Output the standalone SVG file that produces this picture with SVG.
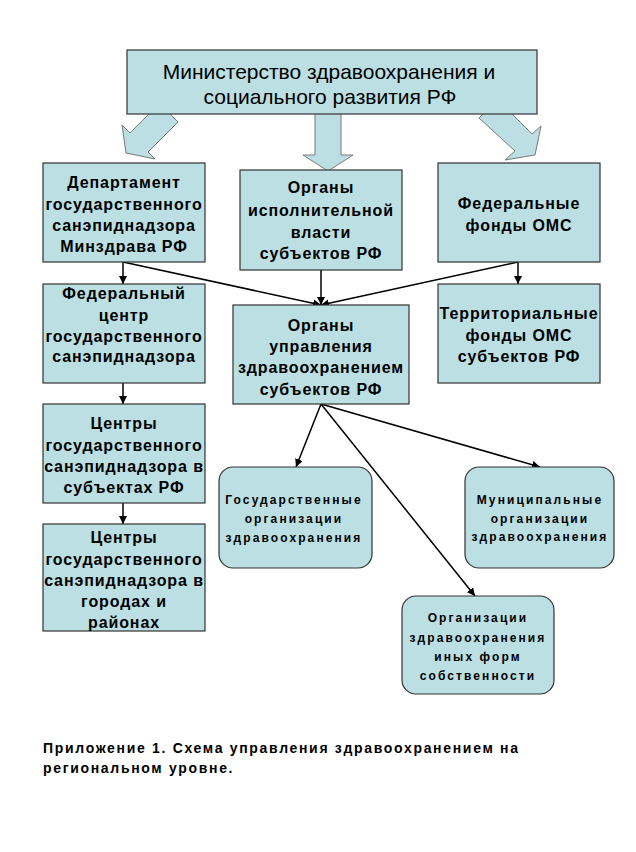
<svg xmlns="http://www.w3.org/2000/svg" width="636" height="852" viewBox="0 0 636 852">
<defs>
<marker id="ah" viewBox="0 0 10 10" refX="10" refY="5" markerWidth="8" markerHeight="8" markerUnits="userSpaceOnUse" orient="auto"><path d="M0,0 L10,5 L0,10 z" fill="#000"/></marker>
<style>
.box{fill:#BBDFE2;stroke:#333;stroke-width:1.2}
.rbox{fill:#BBDFE2;stroke:#333;stroke-width:1.2}
.barrow{fill:#BBDFE2;stroke:#7a7a7a;stroke-width:1}
.t{font-family:"Liberation Sans",Arial,sans-serif;font-weight:bold;font-size:16px;letter-spacing:0.9px;fill:#000;text-anchor:middle}
.s{font-family:"Liberation Sans",Arial,sans-serif;font-weight:bold;font-size:12px;letter-spacing:2.1px;fill:#000;text-anchor:middle}
.title{font-family:"Liberation Sans",Arial,sans-serif;font-size:21px;fill:#000;text-anchor:middle}
.cap{font-family:"Liberation Sans",Arial,sans-serif;font-weight:bold;font-size:14px;letter-spacing:1.68px;fill:#000}
.c{stroke:#000;stroke-width:1.5;fill:none;marker-end:url(#ah)}
</style>
</defs>
<rect width="636" height="852" fill="#fff"/>
<g id="block-arrows">
<polygon class="barrow" points="151,112 130,133 122,125 126,153 155,159 148,152 178,122 168,112"/>
<polygon class="barrow" points="315,112 315,155 303,155 328,171 353,155 341,155 341,112"/>
<polygon class="barrow" points="485,112 479,118 515,151 505,160 535,155 541,126 532,134 510,112"/>
</g>
<g id="ministry">
<rect class="box" x="127" y="50" width="410" height="64"/>
<text class="title" x="329" y="79">Министерство здравоохранения и</text>
<text class="title" x="330" y="104">социального развития РФ</text>
</g>
<g id="connectors">
<line class="c" x1="123" y1="262" x2="123" y2="284"/>
<line class="c" x1="123" y1="262" x2="321" y2="305"/>
<line class="c" x1="321" y1="270" x2="321" y2="305"/>
<line class="c" x1="518" y1="262" x2="321" y2="305"/>
<line class="c" x1="518" y1="262" x2="518" y2="284"/>
<line class="c" x1="123" y1="383" x2="123" y2="404"/>
<line class="c" x1="123" y1="503" x2="123" y2="524"/>
<line class="c" x1="321" y1="404" x2="296" y2="467"/>
<line class="c" x1="321" y1="404" x2="540" y2="467"/>
<line class="c" x1="321" y1="404" x2="475" y2="596"/>
</g>
<g id="dept">
<rect class="box" x="43" y="163" width="162" height="99"/>
<text class="t" x="124" y="188">Департамент</text>
<text class="t" x="124" y="210">государственного</text>
<text class="t" x="124" y="231">санэпиднадзора</text>
<text class="t" x="124" y="252">Минздрава РФ</text>
</g>
<g id="exec">
<rect class="box" x="240" y="170" width="162" height="100"/>
<text class="t" x="321" y="193">Органы</text>
<text class="t" x="321" y="216">исполнительной</text>
<text class="t" x="321" y="238">власти</text>
<text class="t" x="321" y="259">субъектов РФ</text>
</g>
<g id="fed-funds">
<rect class="box" x="438" y="163" width="162" height="99"/>
<text class="t" x="519" y="209">Федеральные</text>
<text class="t" x="519" y="231">фонды ОМС</text>
</g>
<g id="fed-center">
<rect class="box" x="43" y="284" width="162" height="99"/>
<text class="t" x="124" y="299">Федеральный</text>
<text class="t" x="124" y="321">центр</text>
<text class="t" x="124" y="342">государственного</text>
<text class="t" x="124" y="362">санэпиднадзора</text>
</g>
<g id="mgmt">
<rect class="box" x="233" y="305" width="176" height="99"/>
<text class="t" x="321" y="331">Органы</text>
<text class="t" x="321" y="352">управления</text>
<text class="t" x="321" y="373">здравоохранением</text>
<text class="t" x="321" y="395">субъектов РФ</text>
</g>
<g id="terr-funds">
<rect class="box" x="438" y="284" width="162" height="99"/>
<text class="t" x="519" y="319">Территориальные</text>
<text class="t" x="519" y="341">фонды ОМС</text>
<text class="t" x="519" y="362">субъектов РФ</text>
</g>
<g id="centers-subj">
<rect class="box" x="43" y="404" width="162" height="99"/>
<text class="t" x="124" y="429">Центры</text>
<text class="t" x="124" y="451">государственного</text>
<text class="t" x="124" y="472">санэпиднадзора в</text>
<text class="t" x="124" y="493">субъектах РФ</text>
</g>
<g id="centers-city">
<rect class="box" x="43" y="524" width="162" height="107"/>
<text class="t" x="124" y="543">Центры</text>
<text class="t" x="124" y="565">государственного</text>
<text class="t" x="124" y="586">санэпиднадзора в</text>
<text class="t" x="124" y="607">городах и</text>
<text class="t" x="124" y="628">районах</text>
</g>
<g id="state-org">
<rect class="rbox" x="219" y="467" width="153" height="101" rx="14"/>
<text class="s" x="294" y="504">Государственные</text>
<text class="s" x="294" y="523">организации</text>
<text class="s" x="294" y="542">здравоохранения</text>
</g>
<g id="muni-org">
<rect class="rbox" x="465" y="467" width="149" height="101" rx="14"/>
<text class="s" x="540" y="504">Муниципальные</text>
<text class="s" x="540" y="523">организации</text>
<text class="s" x="540" y="541">здравоохранения</text>
</g>
<g id="other-org">
<rect class="rbox" x="402" y="596" width="152" height="98" rx="14"/>
<text class="s" x="478" y="622">Организации</text>
<text class="s" x="478" y="642">здравоохранения</text>
<text class="s" x="478" y="661">иных форм</text>
<text class="s" x="478" y="680">собственности</text>
</g>
<g id="caption">
<text class="cap" x="43" y="753">Приложение 1. Схема управления здравоохранением на</text>
<text class="cap" x="43" y="773">региональном уровне.</text>
</g>
</svg>
